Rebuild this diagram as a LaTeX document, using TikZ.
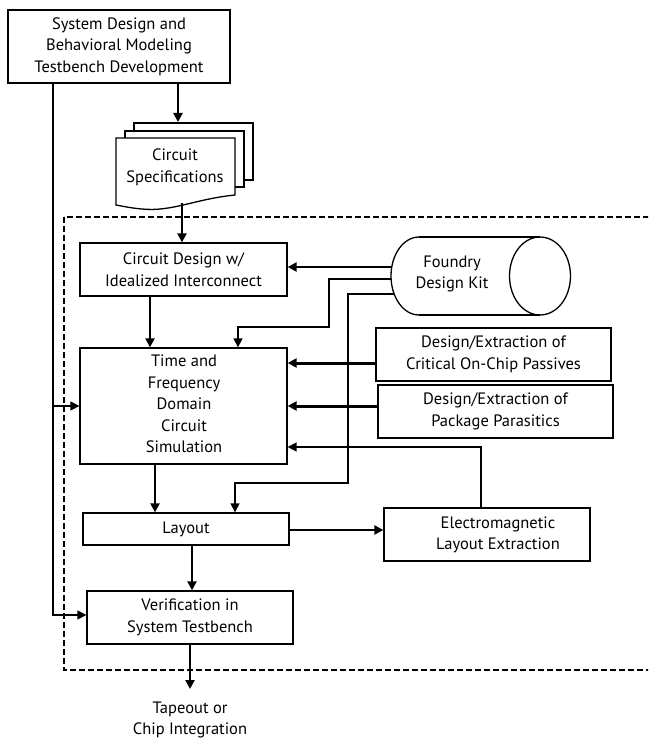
\documentclass[tikz,border=0pt]{standalone}
\usepackage{fontspec}
\setmainfont{PT Sans}
\usetikzlibrary{arrows.meta,calc}
\begin{document}
\begin{tikzpicture}[x=1pt,y=-1pt,
  box/.style={draw,line width=1.3pt,inner sep=0pt,align=center,minimum width=#1},
  lbl/.style={align=center,inner sep=0pt,font=\fontsize{16.5}{21.5}\selectfont},
  every node/.append style={font=\fontsize{16.5}{21.5}\selectfont},
  tip/.style={-{Triangle[length=9pt,width=9pt]}},
  thickarrow/.style={tip,line width=2.2pt},
  heavyarrow/.style={tip,line width=3pt},
  thinarrow/.style={tip,line width=1.3pt},
]
\clip (0,0) rectangle (648,741);
\fill[white] (0,0) rectangle (648,741);

% dashed frame
\draw[line width=2pt,dash pattern=on 6pt off 3pt] (64,217) rectangle (700,670);

% boxes
\node[box=222pt,minimum height=73pt] (top) at (119,46.5) {System Design and\\Behavioral Modeling\\Testbench Development};
\node[box=207pt,minimum height=53pt] (CD) at (183.5,269.5) {Circuit Design w/\\Idealized Interconnect};
\node[box=207pt,minimum height=116pt] (TF) at (183.5,406) {};
\node[lbl] (TFt) at (184,404) {Time and\\Frequency\\Domain\\Circuit\\Simulation};
\node[box=206pt,minimum height=32pt] (LO) at (186,529) {Layout};
\node[box=206pt,minimum height=53pt] (VF) at (190,617.5) {Verification in\\System Testbench};
\node[box=235pt,minimum height=53pt] (PS) at (493.5,354.5) {Design/Extraction of\\Critical On-Chip Passives};
\node[box=235pt,minimum height=53pt] (PK) at (495.5,411.5) {Design/Extraction of\\Package Parasitics};
\node[box=206pt,minimum height=53pt] (EM) at (487,534.5) {};
\node[lbl] (EMt) at (498,535) {Electromagnetic\\Layout Extraction};
\node[lbl] (TO) at (190,720) {Tapeout or\\Chip Integration};

% document stack
\draw[line width=1.3pt,fill=white] (134,131) -- (134,123) -- (253,123) -- (253,180) -- (244,180);
\draw[line width=1.3pt,fill=white] (125,138) -- (125,131) -- (244,131) -- (244,187) -- (235,187);
\draw[line width=1.3pt,fill=white] (116,138) -- (235,138) -- (235,195)
  .. controls (195,199) and (172,212) .. (142,209)
  .. controls (130,208) and (122,206) .. (116,205) -- cycle;
\node[lbl] (DOC) at (175,167.5) {Circuit\\Specifications};
\coordinate (docb) at (182,203);

% cylinder
\draw[line width=1.3pt] (419,237) -- (540,237);
\draw[line width=1.3pt] (419,315) -- (540,315);
\draw[line width=1.3pt] (419,237) arc[start angle=90,end angle=270,x radius=28,y radius=-39];
\draw[line width=1.3pt] (540,276) ellipse[x radius=30.5,y radius=39];
\node[lbl] (FDK) at (452,274) {Foundry\\Design Kit};
\coordinate (c1) at (392,267);
\coordinate (c2) at (391,279);
\coordinate (c3) at (394,294);

% left feed line
\coordinate (lx) at (53,83);
\draw[thinarrow] (lx) |- (TF.west);
\draw[thinarrow] (lx) |- ([yshift=2.5pt]VF.west);

% main flow
\draw[thickarrow] (top.south -| 178,0) -- (178,122);
\draw[thickarrow] (docb) -- (docb |- CD.north);
\draw[thickarrow] (c1) -- (c1 -| CD.east);
\draw[thinarrow] (c2) -| (329,327) -| (TF.north -| 238,0);
\draw[thinarrow] (c3) -| (348,483) -| (LO.north -| 235,0);
\draw[thickarrow] (CD.south -| 150,0) -- (TF.north -| 150,0);
\draw[heavyarrow] ([yshift=-8.5pt]PS.west) -- ([yshift=-8.5pt]PS.west -| TF.east);
\draw[heavyarrow] ([yshift=5.5pt]PK.west) -- ([yshift=5.5pt]PK.west -| TF.east);
\coordinate (emup) at (481,447);
\draw[tip,line width=1.6pt] (EM.north -| emup) |- (emup -| TF.east);
\draw[thickarrow] (TF.south -| 155,0) -- (LO.north -| 155,0);
\draw[thickarrow] ([yshift=-1pt]LO.east) -- ([yshift=-1pt]LO.east -| EM.west);
\draw[thickarrow] (LO.south -| 192,0) -- (VF.north -| 192,0);
\draw[thickarrow] (VF.south -| 190,0) -- (190,689);
\end{tikzpicture}
\end{document}
